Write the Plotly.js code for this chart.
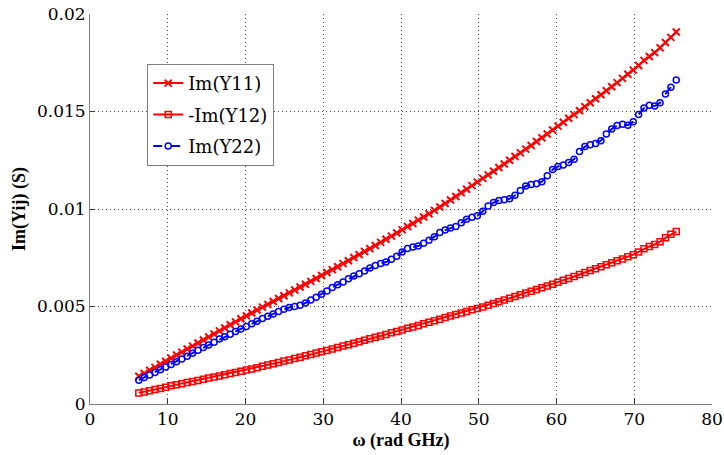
<!DOCTYPE html>
<html>
<head>
<meta charset="utf-8">
<script src="https://cdn.plot.ly/plotly-3.0.1.min.js"></script>
<style>
  html, body { margin: 0; padding: 0; background: #ffffff; }
  #chart { width: 724px; height: 455px; }
</style>
</head>
<body>
<div id="chart"></div>
<script>
// Angular frequency ω (rad·GHz), sweep 1–12 GHz
const omega = [
  6.28, 6.97, 7.67, 8.36, 9.05, 9.74, 10.43, 11.12, 11.81, 12.50,
  13.19, 13.89, 14.58, 15.27, 15.96, 16.65, 17.34, 18.03, 18.72, 19.41,
  20.11, 20.80, 21.49, 22.18, 22.87, 23.56, 24.25, 24.94, 25.63, 26.33,
  27.02, 27.71, 28.40, 29.09, 29.78, 30.47, 31.16, 31.85, 32.55, 33.24,
  33.93, 34.62, 35.31, 36.00, 36.69, 37.38, 38.07, 38.77, 39.46, 40.15,
  40.84, 41.53, 42.22, 42.91, 43.60, 44.30, 44.99, 45.68, 46.37, 47.06,
  47.75, 48.44, 49.13, 49.82, 50.52, 51.21, 51.90, 52.59, 53.28, 53.97,
  54.66, 55.35, 56.04, 56.74, 57.43, 58.12, 58.81, 59.50, 60.19, 60.88,
  61.57, 62.26, 62.96, 63.65, 64.34, 65.03, 65.72, 66.41, 67.10, 67.79,
  68.49, 69.18, 69.87, 70.56, 71.25, 71.94, 72.63, 73.32, 74.01, 74.71,
  75.40
];

// Im(Y11) in S
const imY11 = [
  0.00142, 0.00157, 0.00173, 0.00188, 0.00204, 0.00219, 0.00235, 0.00251, 0.00266, 0.00282,
  0.00297, 0.00313, 0.00328, 0.00344, 0.00359, 0.00375, 0.00390, 0.00406, 0.00421, 0.00437,
  0.00452, 0.00467, 0.00482, 0.00497, 0.00511, 0.00526, 0.00541, 0.00555, 0.00570, 0.00585,
  0.00600, 0.00614, 0.00629, 0.00644, 0.00659, 0.00674, 0.00689, 0.00704, 0.00720, 0.00735,
  0.00751, 0.00766, 0.00782, 0.00797, 0.00813, 0.00829, 0.00845, 0.00861, 0.00877, 0.00893,
  0.00910, 0.00926, 0.00943, 0.00959, 0.00976, 0.00993, 0.01010, 0.01028, 0.01046, 0.01064,
  0.01083, 0.01101, 0.01120, 0.01138, 0.01157, 0.01175, 0.01194, 0.01213, 0.01231, 0.01250,
  0.01269, 0.01288, 0.01307, 0.01326, 0.01346, 0.01365, 0.01385, 0.01405, 0.01425, 0.01445,
  0.01465, 0.01484, 0.01504, 0.01524, 0.01545, 0.01565, 0.01586, 0.01606, 0.01627, 0.01648,
  0.01670, 0.01691, 0.01712, 0.01736, 0.01762, 0.01782, 0.01802, 0.01827, 0.01854, 0.01880,
  0.01908
];

// -Im(Y12) in S
const negImY12 = [
  0.00057, 0.00062, 0.00068, 0.00074, 0.00080, 0.00086, 0.00093, 0.00099, 0.00104, 0.00110,
  0.00116, 0.00121, 0.00127, 0.00133, 0.00138, 0.00144, 0.00150, 0.00156, 0.00162, 0.00168,
  0.00174, 0.00180, 0.00186, 0.00193, 0.00200, 0.00206, 0.00213, 0.00220, 0.00226, 0.00233,
  0.00240, 0.00247, 0.00254, 0.00261, 0.00268, 0.00275, 0.00282, 0.00290, 0.00297, 0.00304,
  0.00312, 0.00319, 0.00327, 0.00334, 0.00342, 0.00349, 0.00357, 0.00365, 0.00372, 0.00380,
  0.00388, 0.00395, 0.00403, 0.00411, 0.00419, 0.00427, 0.00435, 0.00443, 0.00451, 0.00459,
  0.00467, 0.00475, 0.00483, 0.00490, 0.00498, 0.00507, 0.00515, 0.00524, 0.00533, 0.00542,
  0.00551, 0.00560, 0.00569, 0.00578, 0.00587, 0.00596, 0.00605, 0.00614, 0.00624, 0.00634,
  0.00644, 0.00654, 0.00664, 0.00674, 0.00684, 0.00694, 0.00704, 0.00714, 0.00724, 0.00734,
  0.00744, 0.00755, 0.00766, 0.00780, 0.00796, 0.00808, 0.00818, 0.00832, 0.00852, 0.00870,
  0.00884
];

// Im(Y22) in S
const imY22 = [
  0.00122, 0.00136, 0.00149, 0.00162, 0.00176, 0.00190, 0.00203, 0.00217, 0.00231, 0.00245,
  0.00260, 0.00276, 0.00290, 0.00303, 0.00317, 0.00333, 0.00345, 0.00358, 0.00372, 0.00385,
  0.00398, 0.00412, 0.00425, 0.00438, 0.00450, 0.00462, 0.00474, 0.00486, 0.00495, 0.00500,
  0.00506, 0.00518, 0.00533, 0.00548, 0.00563, 0.00580, 0.00598, 0.00612, 0.00626, 0.00642,
  0.00656, 0.00668, 0.00682, 0.00698, 0.00710, 0.00720, 0.00728, 0.00742, 0.00758, 0.00780,
  0.00797, 0.00805, 0.00810, 0.00825, 0.00840, 0.00858, 0.00880, 0.00892, 0.00902, 0.00910,
  0.00930, 0.00948, 0.00958, 0.00965, 0.00988, 0.01015, 0.01033, 0.01044, 0.01048, 0.01052,
  0.01070, 0.01095, 0.01118, 0.01126, 0.01130, 0.01140, 0.01170, 0.01202, 0.01218, 0.01226,
  0.01238, 0.01255, 0.01295, 0.01320, 0.01330, 0.01336, 0.01350, 0.01385, 0.01410, 0.01428,
  0.01434, 0.01430, 0.01448, 0.01485, 0.01518, 0.01532, 0.01528, 0.01545, 0.01590, 0.01625,
  0.01662
];

// Axis tick labels
const xTickVals = [0, 10, 20, 30, 40, 50, 60, 70, 80];
const xTickText = ['0', '10', '20', '30', '40', '50', '60', '70', '80'];
const yTickVals = [0, 0.005, 0.01, 0.015, 0.02];
const yTickText = ['0', '0.005', '0.01', '0.015', '0.02'];

// Bold titles use Liberation Serif; regular labels use DejaVu Serif
const serif = 'Liberation Serif, serif';
const textSerif = 'DejaVu Serif, serif';
const gridDots = '1px,3px';

const traces = [
  {
    x: omega, y: imY11, name: 'Im(Y11)', type: 'scatter', mode: 'lines+markers',
    legendgroup: 'a',
    line: { color: '#ff0000', width: 2 },
    marker: { symbol: 'x-thin-open', size: 7, color: '#ff0000', line: { color: '#ff0000', width: 2 } }
  },
  {
    x: omega, y: negImY12, name: '-Im(Y12)', type: 'scatter', mode: 'lines+markers',
    legendgroup: 'b',
    line: { color: '#ff0000', width: 2 },
    marker: { symbol: 'square-open', size: 6, color: '#ff0000', line: { color: '#ff0000', width: 1.5 } }
  },
  {
    x: omega, y: imY22, name: 'Im(Y22)', type: 'scatter', mode: 'lines+markers',
    legendgroup: 'c',
    line: { color: '#0000ff', width: 2, dash: 'dash' },
    marker: { symbol: 'circle-open', size: 6, color: '#0000ff', line: { color: '#0000ff', width: 1.5 } }
  }
];

const layout = {
  width: 724,
  height: 455,
  margin: { l: 90, r: 12, t: 14, b: 51 },
  paper_bgcolor: '#ffffff',
  plot_bgcolor: '#ffffff',
  font: { family: textSerif, size: 17, color: '#000000' },
  showlegend: true,
  legend: {
    x: 0.092, y: 0.872, xanchor: 'left', yanchor: 'top',
    bgcolor: '#ffffff', bordercolor: '#7f7f7f', borderwidth: 1,
    font: { family: textSerif, size: 18, color: '#000000' },
    traceorder: 'grouped', tracegroupgap: 5
  },
  xaxis: {
    range: [0, 80],
    tickmode: 'array', tickvals: xTickVals, ticktext: xTickText,
    ticks: 'inside', ticklen: 5, tickcolor: '#333333', tickwidth: 1,
    showline: true, linecolor: '#7f7f7f', linewidth: 1,
    showgrid: true, gridcolor: '#444444', griddash: gridDots, gridwidth: 1,
    zeroline: false, mirror: false,
    tickfont: { family: textSerif, size: 17, color: '#000000' },
    title: { text: '<b>ω (rad GHz)</b>', font: { family: serif, size: 18, color: '#000000' }, standoff: 4 }
  },
  yaxis: {
    range: [0, 0.02],
    tickmode: 'array', tickvals: yTickVals, ticktext: yTickText,
    ticks: 'inside', ticklen: 5, tickcolor: '#333333', tickwidth: 1,
    showline: true, linecolor: '#7f7f7f', linewidth: 1,
    showgrid: true, gridcolor: '#444444', griddash: gridDots, gridwidth: 1,
    zeroline: false, mirror: false,
    tickfont: { family: textSerif, size: 17, color: '#000000' },
    title: { text: '<b>Im(Yij) (S)</b>', font: { family: serif, size: 18, color: '#000000' }, standoff: 6 }
  }
};

Plotly.newPlot('chart', traces, layout, { displayModeBar: false, staticPlot: true });
</script>
</body>
</html>
